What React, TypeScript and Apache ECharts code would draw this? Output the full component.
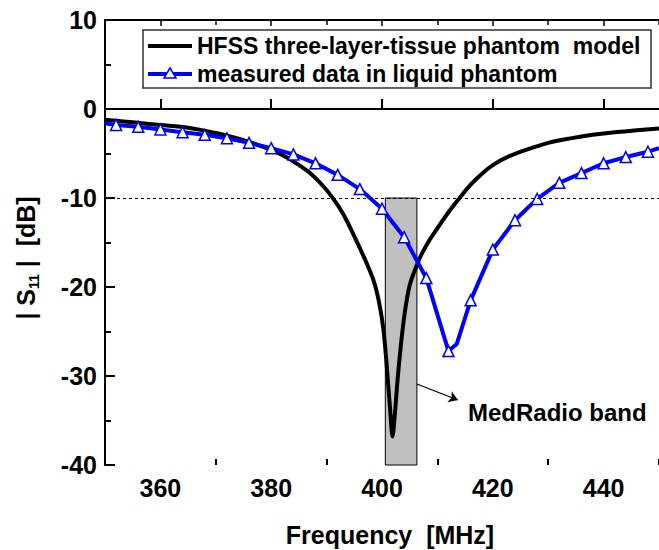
import React, { useEffect, useRef } from "react";
import * as echarts from "echarts";

const hfssName = "HFSS three-layer-tissue phantom  model";
const measName = "measured data in liquid phantom";

const hfssFreq = [350, 355, 360, 365, 370, 375, 380, 383, 385, 387, 389, 391, 393, 395, 397, 398.5, 399.5, 400.3, 401, 401.5, 401.9, 402.3, 402.8, 403.5, 404.2, 405, 406, 407, 408.5, 410, 412, 414, 416, 418, 420, 423, 426, 430, 434, 438, 442, 446, 450];
const hfssDb = [-1.2, -1.5, -1.8, -2.1, -2.7, -3.5, -4.6, -5.5, -6.3, -7.2, -8.4, -9.9, -11.8, -14.3, -17.0, -19.3, -21.8, -25.0, -30.0, -34.0, -36.8, -34.5, -30.5, -26.0, -22.5, -19.8, -18.0, -16.5, -14.8, -13.4, -11.6, -10.0, -8.5, -7.3, -6.3, -5.3, -4.6, -3.8, -3.3, -2.9, -2.6, -2.4, -2.2];

const measFreq = [350, 352, 356, 360, 364, 368, 372, 376, 380, 384, 388, 392, 396, 400, 404, 408, 412, 413.5, 416, 420, 424, 428, 432, 436, 440, 444, 448, 450];
const measDb = [-1.6, -1.8, -2.0, -2.3, -2.6, -2.9, -3.3, -3.8, -4.4, -5.1, -6.1, -7.4, -9.0, -11.2, -14.4, -19.0, -27.2, -26.4, -21.5, -15.8, -12.5, -10.1, -8.3, -7.2, -6.1, -5.4, -4.8, -4.4];
const measMarked = [false, true, true, true, true, true, true, true, true, true, true, true, true, true, true, true, true, false, true, true, true, true, true, true, true, true, true, false];

const xLabelTicks = [360, 380, 400, 420, 440];
const xMinorTicks = [370, 390, 410, 430, 450];
const bandStart = 400.6;
const bandEnd = 406.3;
const thresholdDb = -10;

const FONT = '"Liberation Sans", Arial, sans-serif';

export default function App() {
  const ref = useRef<HTMLDivElement>(null);
  useEffect(() => {
    if (!ref.current) return;
    const chart = echarts.init(ref.current, null, { renderer: "svg" });
    const axisLine = { show: true, lineStyle: { color: "#000", width: 2 } };
    const baseX = {
      type: "value" as const,
      min: 350,
      max: 450,
      gridIndex: 0,
      splitLine: { show: false },
    };
    const legendText = { fontSize: 23, fontWeight: "bold", fill: "#000", fontFamily: FONT, verticalAlign: "middle" };
    chart.setOption({
      animation: false,
      backgroundColor: "#fff",
      grid: { left: 105, top: 20, right: 0, bottom: 85, containLabel: false },
      xAxis: [
        {
          ...baseX,
          position: "bottom",
          axisLine,
          axisTick: { show: true, inside: true, length: 10, customValues: xLabelTicks, lineStyle: { color: "#000", width: 2 } },
          axisLabel: { show: true, customValues: xLabelTicks, margin: 10, fontSize: 25, fontWeight: "bold", color: "#000", fontFamily: FONT },
        },
        {
          ...baseX,
          position: "bottom",
          axisLine: { show: false },
          axisTick: { show: true, inside: true, length: 6, customValues: xMinorTicks, lineStyle: { color: "#000", width: 2 } },
          axisLabel: { show: false },
        },
        {
          ...baseX,
          position: "top",
          axisLine,
          axisTick: { show: true, inside: true, length: 6, customValues: xLabelTicks, lineStyle: { color: "#000", width: 1.5 } },
          axisLabel: { show: false },
        },
        {
          ...baseX,
          position: "top",
          axisLine: { show: false },
          axisTick: { show: true, inside: true, length: 5, customValues: xMinorTicks, lineStyle: { color: "#000", width: 1.5 } },
          axisLabel: { show: false },
        },
      ],
      yAxis: {
        type: "value",
        min: -40,
        max: 10,
        interval: 10,
        axisLine,
        axisTick: { show: true, inside: true, length: 10, lineStyle: { color: "#000", width: 2 } },
        minorTick: { show: true, splitNumber: 2, length: 6, lineStyle: { color: "#000", width: 2 } },
        splitLine: { show: false },
        minorSplitLine: { show: false },
        axisLabel: { margin: 8, fontSize: 25, fontWeight: "bold", color: "#000", fontFamily: FONT },
      },
      series: [
        {
          name: "helper",
          type: "line",
          data: [],
          z: 1,
          silent: true,
          markArea: {
            silent: true,
            itemStyle: { color: "#c0c0c0", borderColor: "#000", borderWidth: 1 },
            data: [[{ coord: [bandStart, thresholdDb] }, { coord: [bandEnd, -40] }]],
          },
          markLine: {
            silent: true,
            symbol: ["none", "none"],
            label: { show: false },
            lineStyle: { color: "#000", type: [3, 3], width: 1 },
            data: [
              { yAxis: thresholdDb },
              [
                { coord: [406.3, -30.9], symbol: "none" },
                { coord: [413.7, -32.7], symbol: "arrow", symbolSize: 9, lineStyle: { type: "solid", width: 1.2 } },
              ],
            ],
          },
        },
        {
          name: hfssName,
          type: "line",
          z: 3,
          data: hfssFreq.map((f, i) => [f, hfssDb[i]]),
          showSymbol: false,
          symbol: "none",
          smooth: 0.3,
          lineStyle: { color: "#000", width: 4 },
          itemStyle: { color: "#000" },
        },
        {
          name: measName,
          type: "line",
          z: 4,
          data: measFreq.map((f, i) =>
            measMarked[i] ? { value: [f, measDb[i]] } : { value: [f, measDb[i]], symbol: "none" }
          ),
          symbol: "triangle",
          symbolSize: 11,
          showAllSymbol: true,
          lineStyle: { color: "#0000ff", width: 4 },
          itemStyle: { color: "#fff", borderColor: "#0000ff", borderWidth: 1.5 },
        },
      ],
      graphic: [
        {
          type: "group",
          z: 100,
          children: [
            { type: "rect", shape: { x: 143, y: 30, width: 508, height: 58 }, style: { fill: "#fff", stroke: "#333", lineWidth: 1.5 } },
            { type: "line", shape: { x1: 148, y1: 46, x2: 192, y2: 46 }, style: { stroke: "#000", lineWidth: 4 } },
            { type: "text", x: 197, y: 46, style: { ...legendText, text: hfssName } },
            { type: "line", shape: { x1: 148, y1: 74, x2: 192, y2: 74 }, style: { stroke: "#0000ff", lineWidth: 4 } },
            { type: "polygon", shape: { points: [[170, 68], [176, 78], [164, 78]] }, style: { fill: "#fff", stroke: "#0000ff", lineWidth: 1.5 } },
            { type: "text", x: 197, y: 74, style: { ...legendText, text: measName } },
          ],
        },
        {
          type: "text",
          left: 468,
          top: 400,
          style: { text: "MedRadio band", fontSize: 24, fontWeight: "bold", fill: "#000", fontFamily: FONT },
        },
        {
          type: "text",
          x: 390,
          y: 535,
          style: { text: "Frequency  [MHz]", fontSize: 25, fontWeight: "bold", fill: "#000", fontFamily: FONT, align: "center", verticalAlign: "middle" },
        },
        {
          type: "text",
          x: 26,
          y: 258,
          rotation: Math.PI / 2,
          style: {
            text: "| S{sub|11} |  [dB]",
            fontSize: 25,
            fontWeight: "bold",
            fill: "#000",
            fontFamily: FONT,
            align: "center",
            verticalAlign: "middle",
            rich: {
              sub: { fontSize: 14, fontWeight: "bold", fill: "#000", fontFamily: FONT, verticalAlign: "bottom", lineHeight: 30, padding: [12, 0, 0, 0] },
            },
          },
        },
      ],
    });
    return () => chart.dispose();
  }, []);
  return <div ref={ref} style={{ position: "fixed", left: 0, top: 0, width: 659, height: 550 }} />;
}
